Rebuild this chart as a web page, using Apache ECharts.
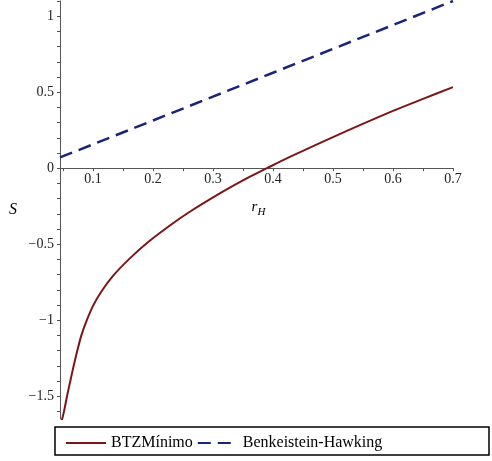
<!DOCTYPE html>
<html>
<head>
<meta charset="utf-8">
<script src="https://cdn.jsdelivr.net/npm/echarts@6/dist/echarts.min.js"></script>
<style>
	html,body{margin:0;padding:0;background:#fff;}
	#chart{width:492px;height:461px;}
</style>
</head>
<body>
<div id="chart"></div>
<script>
// valores
var rBTZ = [0.048,0.0517,0.0567,0.0622,0.0678,0.0739,0.0806,0.0889,0.1,0.114,0.133,0.161,0.192,0.231,0.262,0.317,0.35,0.39,0.428,0.5,0.6,0.65,0.7];
var sBTZ = [-1.66,-1.6,-1.5,-1.4,-1.3,-1.2,-1.1,-1.008,-0.906,-0.811,-0.71,-0.595,-0.486,-0.369,-0.285,-0.153,-0.08,0.0,0.074,0.205,0.377,0.456,0.533];
var rBH = [0.045,0.1,0.2,0.3,0.4,0.5,0.6,0.7];
var sBH = [0.071,0.157,0.314,0.471,0.628,0.785,0.942,1.1];
var xTickLabels = [0.1,0.2,0.3,0.4,0.5,0.6,0.7];
var yTickLabels = [-1.5,-1,-0.5,0,0.5,1];
var xMinorTicks = [0.05,0.1,0.15,0.2,0.25,0.3,0.35,0.4,0.45,0.5,0.55,0.6,0.65,0.7];
var yMinorTicks = [-1.6,-1.5,-1.4,-1.3,-1.2,-1.1,-1,-0.9,-0.8,-0.7,-0.6,-0.5,-0.4,-0.3,-0.2,-0.1,0,0.1,0.2,0.3,0.4,0.5,0.6,0.7,0.8,0.9,1,1.1];

function pairs(xs,ys){
	return xs.map(function(x,i){ return [x,ys[i]]; });
}
function fmt(v){
	var s = String(Math.round(v*100)/100);
	return s.replace("-","\u2212");
}

var serif = "Liberation Serif";
var myChart = echarts.init(document.getElementById("chart"));
var option = {
	animation:false,
	grid:{left:60,right:39,top:1,bottom:42,outerBoundsMode:"none",containLabel:false},
	legend:{
		left:60,
		top:430,
		itemWidth:40,
		itemHeight:14,
		itemGap:4,
		itemStyle:{opacity:0},
		textStyle:{fontFamily:serif,fontSize:16,color:"#000"},
		data:["BTZMínimo","Benkeistein-Hawking"]
	},
	graphic:[{
		type:"rect",
		shape:{x:55,y:427,width:434,height:28},
		style:{fill:"none",stroke:"#000",lineWidth:1.5}
	}],
	xAxis:{
		type:"value",
		min:0.045,
		max:0.7,
		name:"{r|r}{h|H}",
		nameLocation:"middle",
		nameGap:28,
		nameTextStyle:{
			padding:[0,0,0,4],
			rich:{
				r:{fontFamily:serif,fontStyle:"italic",fontSize:15,color:"#000"},
				h:{fontFamily:serif,fontStyle:"italic",fontSize:11,color:"#000",padding:[10,0,0,0]}
			}
		},
		axisLine:{onZero:false,lineStyle:{color:"#555",width:1}},
		axisTick:{show:true,length:3,customValues:xMinorTicks,lineStyle:{color:"#555"}},
		axisLabel:{customValues:xTickLabels,formatter:fmt,margin:4,fontFamily:serif,fontSize:14,color:"#222"},
		splitLine:{show:false}
	},
	yAxis:{
		type:"value",
		min:-1.65,
		max:1.1,
		name:"S",
		nameLocation:"middle",
		nameGap:43,
		nameRotate:0,
		nameTextStyle:{fontFamily:serif,fontStyle:"italic",fontSize:16,color:"#000",padding:[8,0,0,0]},
		axisLine:{show:true,onZero:false,lineStyle:{color:"#555",width:1}},
		axisTick:{show:true,length:3,customValues:yMinorTicks,lineStyle:{color:"#555"}},
		axisLabel:{customValues:yTickLabels,formatter:fmt,margin:6,fontFamily:serif,fontSize:14,color:"#222"},
		splitLine:{show:false}
	},
	series:[{
		name:"BTZMínimo",
		type:"line",
		data:pairs(rBTZ,sBTZ),
		smooth:0.3,
		symbol:"none",
		clip:true,
		lineStyle:{color:"#7c1518",width:2},
		itemStyle:{color:"#7c1518"}
	},{
		name:"Benkeistein-Hawking",
		type:"line",
		data:pairs(rBH,sBH),
		symbol:"none",
		clip:true,
		lineStyle:{color:"#1b2478",width:2.5,type:[13,7]},
		itemStyle:{color:"#1b2478"}
	}]
};
myChart.setOption(option);
// el eje x cruza en S=0: se desplaza hasta el cero del eje y
var yZero = myChart.convertToPixel({yAxisIndex:0},0);
var yBottom = myChart.convertToPixel({yAxisIndex:0},-1.65);
myChart.setOption({xAxis:{offset:yZero-yBottom}});
</script>
</body>
</html>
